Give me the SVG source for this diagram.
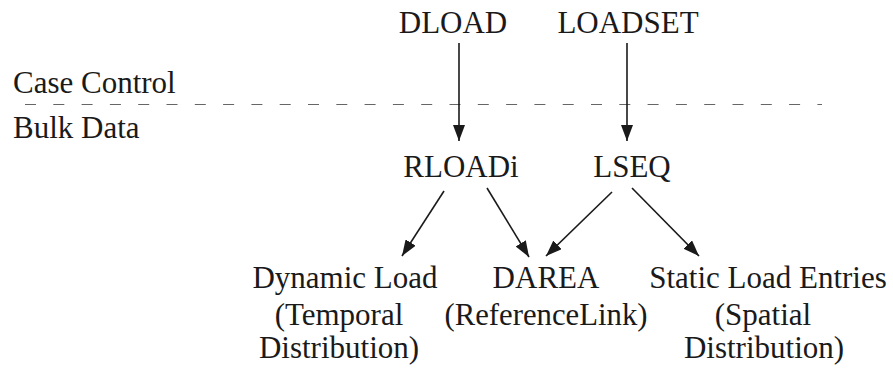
<svg xmlns="http://www.w3.org/2000/svg" width="893" height="368" viewBox="0 0 893 368">
<style>
text{font-family:"Liberation Serif","DejaVu Serif",serif;font-size:31px;fill:#1a1a1a;text-anchor:middle}
.l{text-anchor:start}
.c{stroke:#1a1a1a;stroke-width:1.6;fill:none;marker-end:url(#ah)}
</style>
<defs>
<marker id="ah" markerUnits="userSpaceOnUse" markerWidth="17" markerHeight="12" refX="16" refY="6" orient="auto">
<path d="M0,0 L16,6 L0,12 z" fill="#1a1a1a"/>
</marker>
</defs>
<rect width="893" height="368" fill="#fff"/>
<g id="labels">
<text class="l" x="13" y="93">Case Control</text>
<text class="l" x="13" y="138">Bulk Data</text>
<line x1="25" y1="104.5" x2="822" y2="104.5" stroke="#666" stroke-width="1.2" stroke-dasharray="11 17.3"/>
</g>
<g id="dload"><text x="453" y="33">DLOAD</text></g>
<g id="loadset"><text x="628" y="33">LOADSET</text></g>
<g id="rloadi"><text x="461" y="177">RLOADi</text></g>
<g id="lseq"><text x="632" y="177">LSEQ</text></g>
<g id="dynamic"><text x="345" y="288">Dynamic Load</text><text x="339" y="325">(Temporal</text><text x="339" y="358">Distribution)</text></g>
<g id="darea"><text x="546" y="288">DAREA</text><text x="546" y="325" textLength="203" lengthAdjust="spacingAndGlyphs">(ReferenceLink)</text></g>
<g id="static"><text x="768" y="288">Static Load Entries</text><text x="763" y="325">(Spatial</text><text x="764" y="358">Distribution)</text></g>
<g id="connectors">
<line class="c" x1="459" y1="43" x2="459" y2="141"/>
<line class="c" x1="627" y1="43" x2="627" y2="141"/>
<line class="c" x1="444" y1="191" x2="402" y2="256"/>
<line class="c" x1="487" y1="188" x2="529" y2="257"/>
<line class="c" x1="612" y1="192" x2="546" y2="256"/>
<line class="c" x1="632" y1="188" x2="699" y2="256"/>
</g>
</svg>
